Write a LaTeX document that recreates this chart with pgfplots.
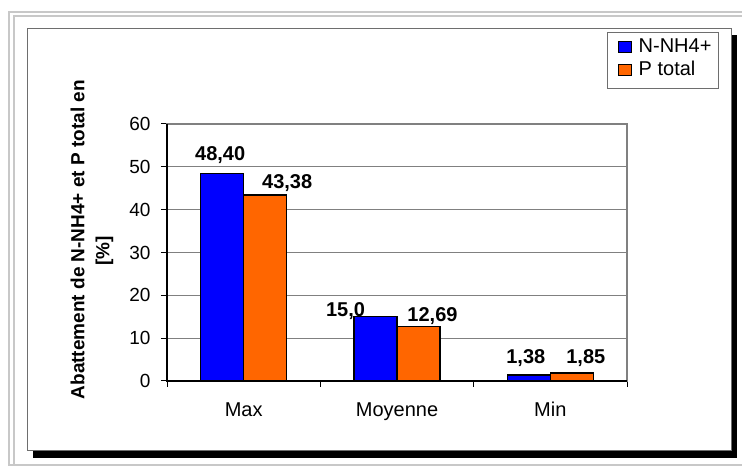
\documentclass[border=0pt]{standalone}
\usepackage{fontspec}
\setmainfont{Liberation Sans}
\usepackage{pgfplots}
\usepackage{pgfplotstable}
\pgfplotsset{compat=1.18}

\definecolor{nblue}{RGB}{0,0,255}
\definecolor{porange}{RGB}{255,102,0}
\definecolor{pageframe}{RGB}{200,200,200}
\definecolor{gridgray}{RGB}{128,128,128}
\definecolor{chartborder}{RGB}{110,110,110}

% label offsets, reset per point
\def\lbldx{0}
\def\lbldy{0}

% x: category index, y: value, lbl: printed value, dx/dy: label offsets (pt)
\pgfplotstableread{
x y lbl dx dy
0 48.40 48,40 -2 13
1 15.0 15,0 -30 0
2 1.38 1,38 -3 12
}\nh

\pgfplotstableread{
x y lbl dx dy
0 43.38 43,38 22 7
1 12.69 12,69 14 5
2 1.85 1,85 14 10
}\ptot

\pgfplotsset{
  valuelabels/.style={
    nodes near coords, point meta=explicit symbolic,
    visualization depends on={\thisrow{dx}\as\lbldx},
    visualization depends on={\thisrow{dy}\as\lbldy},
    every node near coord/.append style={anchor=base,
      xshift=\lbldx pt, yshift=\lbldy pt,
      font=\bfseries\fontsize{20}{22}\selectfont, text=black},
  },
  squarelegend/.style={
    legend image code/.code={
      \path[draw=none, fill=none] (0pt,0pt) -- (24pt,0pt);
      \draw[##1,/tikz/.cd,line width=1pt] (4pt,-4pt) rectangle (17pt,7pt);}
  },
}

\begin{document}
\begin{tikzpicture}[x=1pt,y=1pt]
\path[use as bounding box, fill=white] (0,0) rectangle (742,466);
\begin{scope}
  \clip (0,0) rectangle (742,466);
  % page frame
  \draw[pageframe, line width=2pt] (9,1) rectangle (760,454);
  \draw[pageframe, line width=2pt] (14,-5) -- (14,450) -- (760,450);
\end{scope}
% chart area with drop shadow
\fill[black] (33,8) rectangle (737,431);
\draw[chartborder, fill=white, line width=1pt] (27,15) rectangle (731,437);

\begin{axis}[
  at={(167pt,85pt)}, anchor=south west,
  scale only axis, width=460pt, height=257pt,
  xmin=-0.5, xmax=2.5,
  ymin=0, ymax=60,
  ytick={0,10,...,60},
  xtick={-0.5,0.5,1.5,2.5}, xticklabels={},
  extra x ticks={0,1,2},
  extra x tick labels={Max,Moyenne,Min},
  extra x tick style={major tick length=0pt,
    xticklabel style={anchor=base, yshift=-36pt, font=\fontsize{20}{22}\selectfont}},
  tick align=outside, tick pos=left,
  major tick length=6pt,
  tick style={black, line width=1pt},
  ymajorgrids,
  major grid style={gridgray, line width=1.3pt},
  axis line style={gridgray, line width=1.3pt},
  /pgf/number format/assume math mode=true,
  tick label style={font=\fontsize{19}{21}\selectfont},
  yticklabel style={xshift=-7pt},
  ylabel={Abattement de N-NH4+ et P total en\\\mbox{[\%]\hspace{22pt}}},
  ylabel style={font=\bfseries\fontsize{19}{25}\selectfont, align=center,
    at={(axis description cs:-0.163,0.55)}, anchor=center},
  ybar=0pt, bar width=43pt,
  legend style={at={(axis description cs:1.2,1.358)}, anchor=north east,
    draw=chartborder, line width=1pt,
    font=\fontsize{20}{23}\selectfont,
    inner xsep=7pt, inner ysep=5pt,
    nodes={inner sep=0pt, text height=15pt, text depth=8pt}},
  legend cell align=left,
  after end axis/.code={
    \draw[black, line width=1.3pt] (rel axis cs:0,1) -- (rel axis cs:0,0) -- (rel axis cs:1,0);
  },
]
\addplot[fill=nblue, draw=black, line width=1.5pt, valuelabels, squarelegend]
  table[x=x, y=y, meta=lbl]{\nh};
\addplot[fill=porange, draw=black, line width=1.5pt, valuelabels, squarelegend]
  table[x=x, y=y, meta=lbl]{\ptot};
\legend{N-NH4+, P total}
\end{axis}
\end{tikzpicture}
\end{document}
